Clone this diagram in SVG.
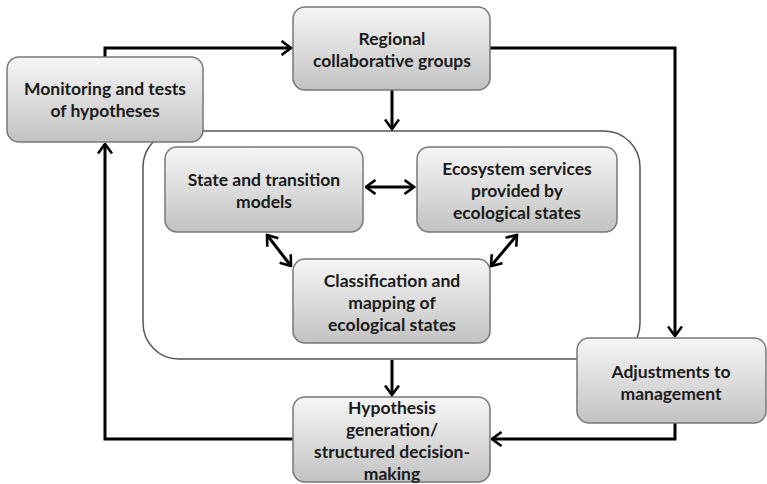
<svg xmlns="http://www.w3.org/2000/svg" width="767" height="484" viewBox="0 0 767 484">
<style>
.box{fill:url(#g);stroke:#777;stroke-width:1.5}
.t{font-family:Lato,"Open Sans",sans-serif;font-weight:bold;font-size:17.5px;fill:#1a1a1a;text-anchor:middle}
.c{fill:none;stroke:#000;stroke-width:3}
.frame{fill:none;stroke:#555;stroke-width:1.5}
</style>
<defs>
<linearGradient id="g" x1="0" y1="0" x2="0" y2="1">
<stop offset="0" stop-color="#f6f6f6"/>
<stop offset="1" stop-color="#c2c2c2"/>
</linearGradient>
<marker id="a" viewBox="0 0 12 16" refX="10.5" refY="8" markerWidth="12" markerHeight="16" markerUnits="userSpaceOnUse" orient="auto-start-reverse">
<path d="M1,1 L10.5,8 L1,15" fill="none" stroke="#000" stroke-width="2.6"/>
</marker>
</defs>
<rect id="container" class="frame" x="143" y="131" width="497" height="228" rx="36"/>
<g id="connectors">
<path class="c" d="M105,57 V48 H291" marker-end="url(#a)"/>
<path class="c" d="M490,48 H675 V336" marker-end="url(#a)"/>
<path class="c" d="M392,90 V129" marker-end="url(#a)"/>
<path class="c" d="M366,187 H414" marker-start="url(#a)" marker-end="url(#a)"/>
<path class="c" d="M267,235 L291,266" marker-start="url(#a)" marker-end="url(#a)"/>
<path class="c" d="M517,235 L491,266" marker-start="url(#a)" marker-end="url(#a)"/>
<path class="c" d="M392,360 V395" marker-end="url(#a)"/>
<path class="c" d="M675,423 V439 H492" marker-end="url(#a)"/>
<path class="c" d="M293,439 H105 V144" marker-end="url(#a)"/>
</g>
<g id="regional">
<rect class="box" x="293" y="7" width="197" height="83" rx="12"/>
<text class="t" x="392" y="45">Regional</text>
<text class="t" x="392" y="67">collaborative groups</text>
</g>
<g id="monitoring">
<rect class="box" x="7" y="57" width="196" height="85" rx="12"/>
<text class="t" x="105" y="95">Monitoring and tests</text>
<text class="t" x="105" y="117">of hypotheses</text>
</g>
<g id="state">
<rect class="box" x="165" y="147" width="198" height="85" rx="12"/>
<text class="t" x="264" y="186">State and transition</text>
<text class="t" x="264" y="208">models</text>
</g>
<g id="ecosystem">
<rect class="box" x="417" y="147" width="200" height="85" rx="12"/>
<text class="t" x="517" y="175">Ecosystem services</text>
<text class="t" x="517" y="197">provided by</text>
<text class="t" x="517" y="219">ecological states</text>
</g>
<g id="classification">
<rect class="box" x="293" y="259" width="197" height="84" rx="12"/>
<text class="t" x="392" y="287">Classification and</text>
<text class="t" x="392" y="309">mapping of</text>
<text class="t" x="392" y="331">ecological states</text>
</g>
<g id="adjustments">
<rect class="box" x="577" y="338" width="189" height="85" rx="12"/>
<text class="t" x="671" y="378">Adjustments to</text>
<text class="t" x="671" y="400">management</text>
</g>
<g id="hypothesis">
<rect class="box" x="293" y="397" width="197" height="85" rx="12"/>
<text class="t" x="392" y="414">Hypothesis</text>
<text class="t" x="392" y="436">generation/</text>
<text class="t" x="392" y="458">structured decision-</text>
<text class="t" x="392" y="480">making</text>
</g>
</svg>
